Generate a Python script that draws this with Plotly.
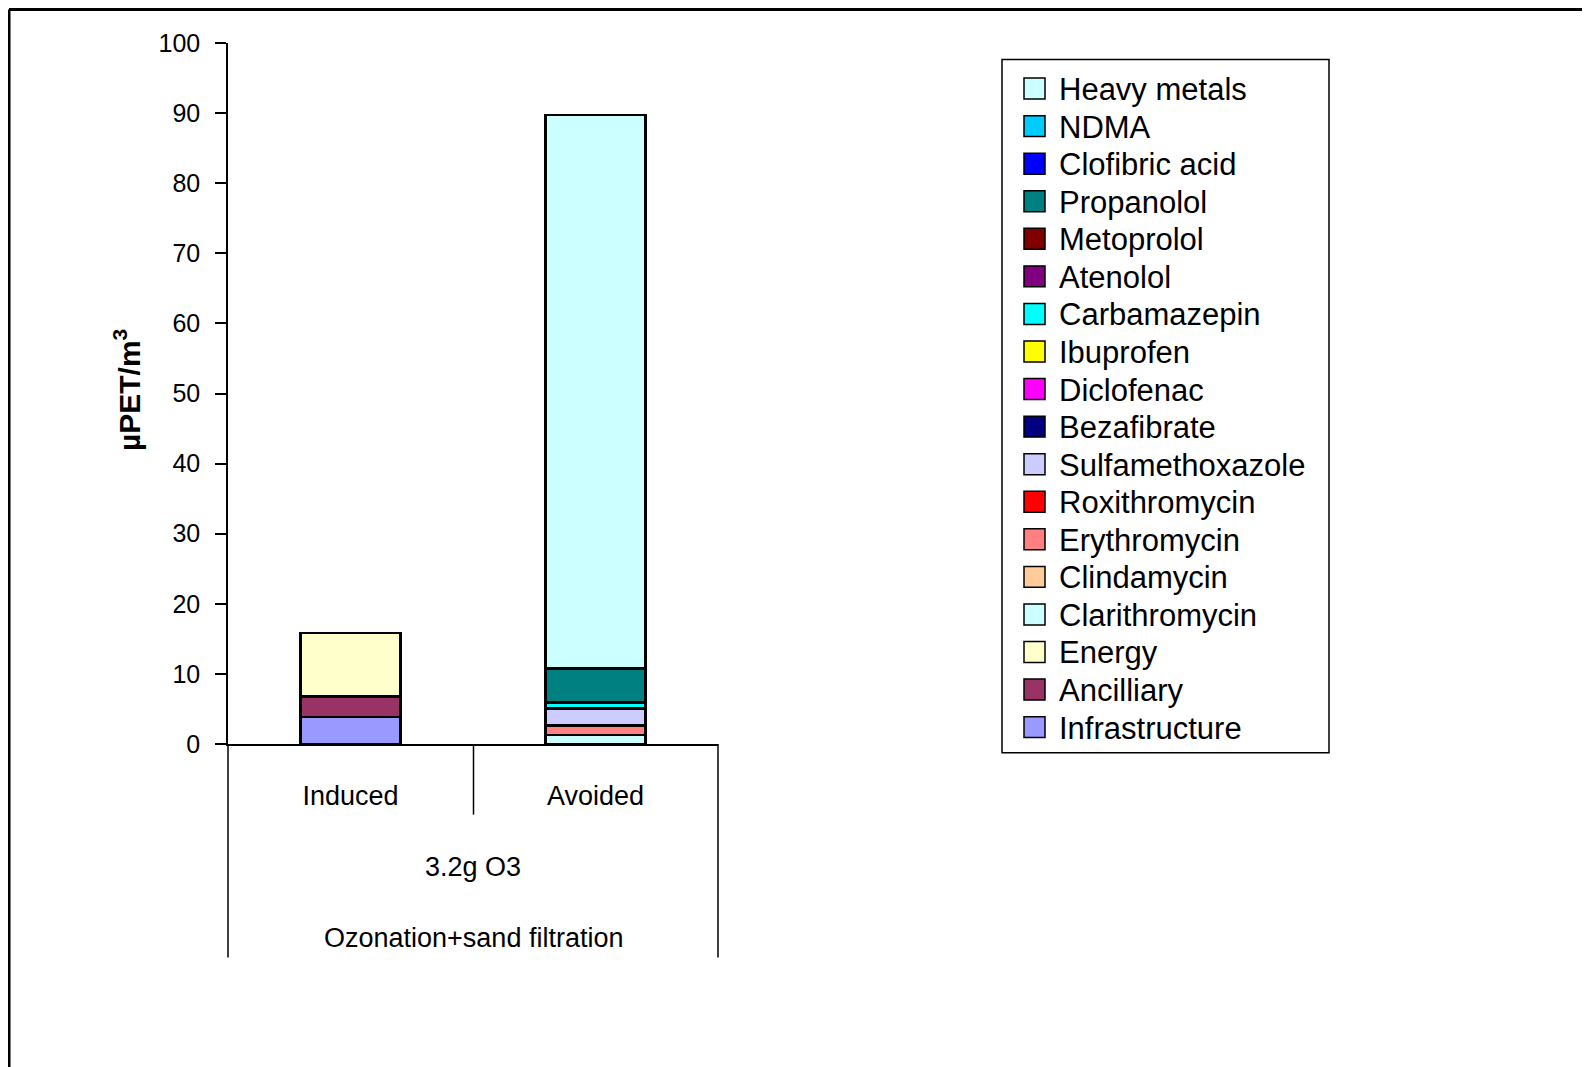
import plotly.graph_objects as go

categories = ["Induced", "Avoided"]

# stacking order, bottom to top
series_names = ["Infrastructure", "Ancilliary", "Energy", "Clarithromycin", "Clindamycin",
                "Erythromycin", "Roxithromycin", "Sulfamethoxazole", "Bezafibrate", "Diclofenac",
                "Ibuprofen", "Carbamazepin", "Atenolol", "Metoprolol", "Propanolol",
                "Clofibric acid", "NDMA", "Heavy metals"]
induced_vals = [3.85, 2.95, 9.0, 0, 0, 0, 0, 0, 0, 0, 0, 0, 0, 0, 0, 0, 0, 0]
avoided_vals = [0, 0, 0, 1.3, 0.02, 1.3, 0.02, 2.4, 0.01, 0.01, 0.01, 0.8, 0.01, 0.01,
                4.9, 0.01, 0.05, 78.9]
series_colors = ["#9999ff", "#993366", "#ffffcc", "#ccffff", "#ffcc99",
                 "#ff8080", "#ff0000", "#ccccff", "#000080", "#ff00ff",
                 "#ffff00", "#00ffff", "#800080", "#800000", "#008080",
                 "#0000ff", "#00ccff", "#ccffff"]

W, H = 1590, 1067
OFF = 8  # page body margin
# plot area in screenshot pixels
SL, SR, ST, SB = 228, 718, 42.6, 744.3
plot_l, plot_r, plot_t, plot_b = SL - OFF, SR - OFF, ST - OFF, SB - OFF


def px(x):
    return (x - SL) / (SR - SL)


def py(y):
    return (SB - y) / (SB - ST)


fig = go.Figure()
for name, a, b, c in zip(series_names, induced_vals, avoided_vals, series_colors):
    fig.add_trace(go.Bar(x=categories, y=[a, b], name=name, showlegend=False,
                         marker=dict(color=c, line=dict(color="black", width=2.5))))

font = "Liberation Sans, Arial, sans-serif"
fig.update_layout(
    width=W, height=H,
    barmode="stack", bargap=0.59,
    plot_bgcolor="white", paper_bgcolor="white",
    margin=dict(l=plot_l, r=W - plot_r, t=plot_t, b=H - plot_b),
    font=dict(family=font, color="black"),
)
fig.update_yaxes(range=[0, 100], dtick=10, showgrid=False, zeroline=False,
                 showline=True, linecolor="black", linewidth=1.5,
                 ticks="outside", ticklen=11, tickwidth=1.5, tickcolor="black",
                 tickfont=dict(size=25), ticklabelstandoff=10)
fig.update_xaxes(showgrid=False, showline=True, linecolor="black", linewidth=1.5,
                 ticks="", tickfont=dict(size=27), ticklabelstandoff=27)

# category dividers below the axis and the outer frame
lines = [(SL, SB, SL, 958, 1.5), (473.5, SB, 473.5, 815, 1.5), (SR, SB, SR, 958, 1.5),
         (9, 9, 9, H + 20, 3), (9, 9, W + 20, 9, 3)]
for x0, y0, x1, y1, w in lines:
    fig.add_shape(type="line", xref="paper", yref="paper",
                  x0=px(x0), x1=px(x1), y0=py(y0), y1=py(y1),
                  line=dict(color="black", width=w))

for text, yc in [("3.2g O3", 867), ("Ozonation+sand filtration", 938)]:
    fig.add_annotation(text=text, xref="paper", yref="paper",
                       x=0.5, y=py(yc), showarrow=False, font=dict(size=27),
                       xanchor="center", yanchor="middle")

fig.add_annotation(text="<b>µPET/m<sup>3</sup></b>", xref="paper", yref="paper",
                   x=px(127), y=py(390), textangle=-90, showarrow=False,
                   font=dict(size=30), xanchor="center", yanchor="middle")

# legend box, drawn by hand so the swatches match the original size
fig.add_shape(type="rect", xref="paper", yref="paper",
              x0=px(1002), x1=px(1329), y0=py(59), y1=py(753),
              line=dict(color="black", width=1.5), fillcolor="white")
step = 37.6
for i, (name, c) in enumerate(zip(series_names[::-1], series_colors[::-1])):
    yc = 88.2 + i * step
    fig.add_shape(type="rect", xref="paper", yref="paper",
                  x0=px(1024), x1=px(1045), y0=py(yc - 10.5), y1=py(yc + 10.5),
                  line=dict(color="black", width=1.5), fillcolor=c)
    fig.add_annotation(text=name, xref="paper", yref="paper",
                       x=px(1057), y=py(yc + 1), showarrow=False,
                       font=dict(size=31), xanchor="left", yanchor="middle")

fig.write_html("out.html")
